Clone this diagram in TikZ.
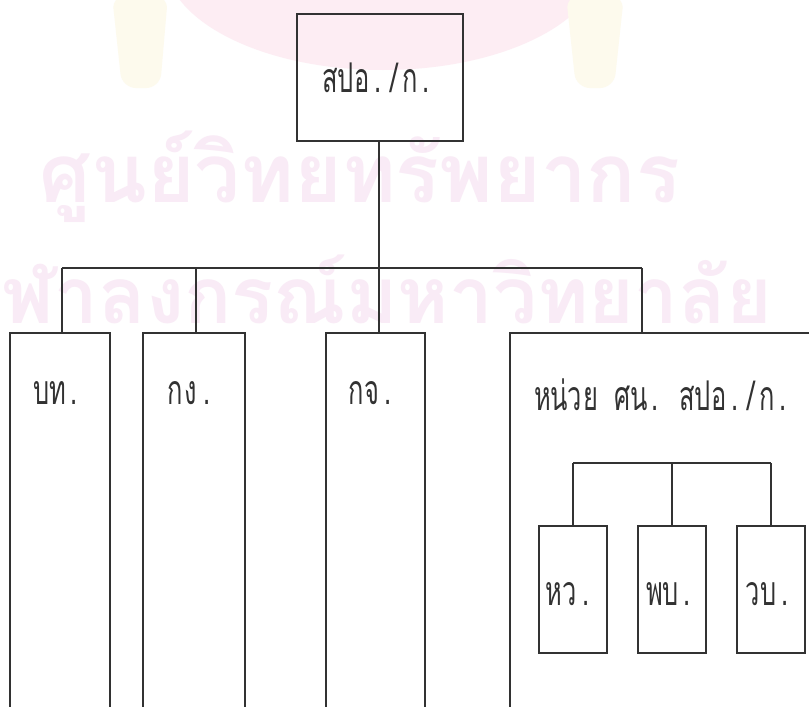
\documentclass[tikz,border=0pt]{standalone}
\usepackage{fontspec}
\newfontfamily\thaifont[Script=Thai]{Loma}
\newcommand{\tc}[1]{\makebox[16pt][c]{\scalebox{0.62}[1]{\thaifont\fontsize{41}{46}\selectfont #1}}}
\definecolor{ink}{RGB}{50,50,50}
\definecolor{wmtext}{RGB}{249,235,246}
\definecolor{wmlogo}{RGB}{253,237,243}
\definecolor{wmgold}{RGB}{253,250,237}
\begin{document}
\begin{tikzpicture}[x=1pt,y=-1pt,
  box/.style={draw=ink, line width=1.6pt, inner sep=0pt, anchor=north},
  lbl/.style={text=ink, inner sep=0pt, anchor=base},
  conn/.style={draw=ink, line width=1.6pt},
  wm/.style={text=wmtext, inner sep=0pt}]
\useasboundingbox (0,0) rectangle (809,707);
\clip (0,0) rectangle (809,707);
\fill[white] (0,0) rectangle (809,707);
% watermark
\fill[wmlogo] (383,-40) ellipse [x radius=218pt, y radius=110pt];
\fill[wmgold, rounded corners=14pt] (112,-5) -- (168,-5) -- (160,88) -- (122,88) -- cycle;
\fill[wmgold, rounded corners=14pt] (566,-5) -- (624,-5) -- (614,88) -- (576,88) -- cycle;
\node[wm, anchor=base east] (wm1) at (680,202) {\resizebox{640pt}{!}{\thaifont\bfseries ศูนย์วิทยทรัพยากร}};
\node[wm, anchor=base east] (wm2) at (772,323) {\resizebox{816pt}{!}{\thaifont\bfseries จุฬาลงกรณ์มหาวิทยาลัย}};
% boxes
\node[box, minimum width=166pt, minimum height=127pt] (top) at (380,13) {};
\node[box, minimum width=100pt, minimum height=420pt] (bt) at (60,332) {};
\node[box, minimum width=102pt, minimum height=420pt] (kg) at (194,332) {};
\node[box, minimum width=99pt, minimum height=420pt] (kj) at (375.5,332) {};
\node[box, minimum width=400pt, minimum height=420pt, anchor=north west] (unit) at (509,332) {};
\node[box, minimum width=68pt, minimum height=127pt] (hw) at (573,525) {};
\node[box, minimum width=68pt, minimum height=127pt] (pb) at (672,525) {};
\node[box, minimum width=68pt, minimum height=127pt] (wb) at (771,525) {};
% labels
\node[lbl] (ttop) at (378,92) {\tc{ส}\tc{ป}\tc{อ}\tc{.}\tc{/}\tc{ก}\tc{.}};
\node[lbl] (tbt) at (58,404) {\tc{บ}\tc{ท}\tc{.}};
\node[lbl] (tkg) at (191,404) {\tc{ก}\tc{ง}\tc{.}};
\node[lbl] (tkj) at (372,404) {\tc{ก}\tc{จ}\tc{.}};
\node[lbl] (tunit) at (663,410) {\tc{ห}\tc{น่}\tc{ว}\tc{ย}\tc{\ }\tc{ศ}\tc{น}\tc{.}\tc{\ }\tc{ส}\tc{ป}\tc{อ}\tc{.}\tc{/}\tc{ก}\tc{.}};
\node[lbl] (thw) at (570,605) {\tc{ห}\tc{ว}\tc{.}};
\node[lbl] (tpb) at (671,605) {\tc{พ}\tc{บ}\tc{.}};
\node[lbl] (twb) at (769,605) {\tc{ว}\tc{บ}\tc{.}};
% connectors
\coordinate (barL) at (62,268);
\coordinate (barK) at (196,268);
\coordinate (barM) at (379,268);
\coordinate (barR) at (642,268);
\draw[conn] (top.south -| barM) -- (barM);
\draw[conn] (barL) -- (barR);
\draw[conn] (barL) -- (barL |- bt.north);
\draw[conn] (barK) -- (barK |- kg.north);
\draw[conn] (barM) -- (barM |- kj.north);
\draw[conn] (barR) -- (barR |- unit.north);
\coordinate (subL) at (573,463);
\coordinate (subM) at (672,463);
\coordinate (subR) at (771,463);
\draw[conn] (subL) -- (subR);
\draw[conn] (subL) -- (hw.north);
\draw[conn] (subM) -- (pb.north);
\draw[conn] (subR) -- (wb.north);
\end{tikzpicture}
\end{document}
